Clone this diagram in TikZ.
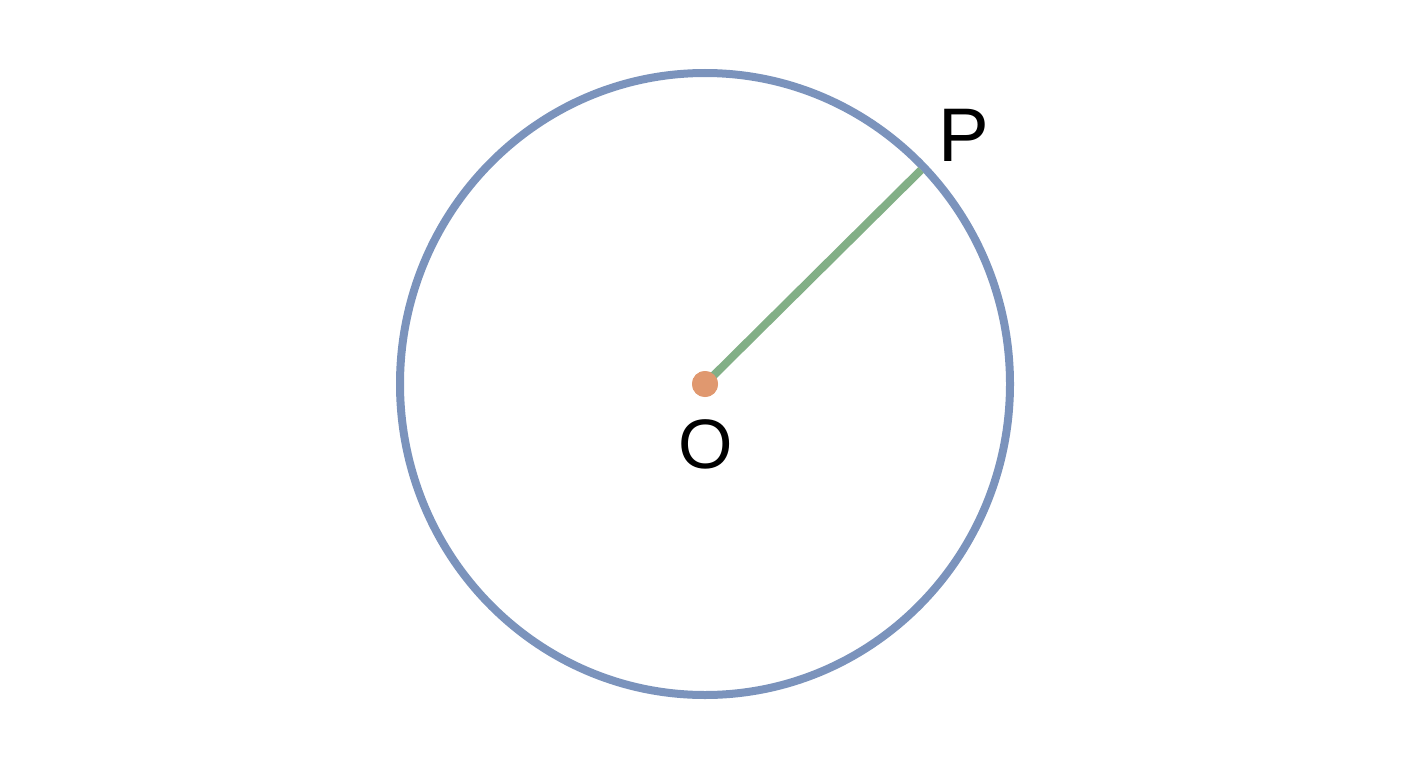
\documentclass[tikz,border=0pt]{standalone}
\usepackage{fontspec}
\setmainfont{Liberation Sans}
\usetikzlibrary{positioning}
\definecolor{rimblue}{HTML}{7B93BC}
\definecolor{radgreen}{HTML}{82AF86}
\definecolor{dotorange}{HTML}{E0986F}
\tikzset{
	rim/.style={
		draw=rimblue,
		line width=8pt
	},
	radius line/.style={
		draw=radgreen,
		line width=8pt
	},
	dot/.style={
		circle,
		fill=dotorange,
		inner sep=0pt,
		minimum size=26pt
	},
	point name/.style={
		inner sep=0pt,
		text=black
	}
}

\begin{document}
\begin{tikzpicture}[x=1pt, y=-1pt]
	\useasboundingbox (0,0) rectangle (1408,768);
	\node[dot] (o) at (705,384) {};
	\coordinate (p) at (921,170);
	\node[point name, font=\fontsize{70}{70}\selectfont] (oname) at (706,444) {O};
	\node[point name, font=\fontsize{76}{76}\selectfont] (pname) at (964,135) {P};

	\draw[rim] (o.center) ellipse [x radius=305, y radius=311];
	\draw[radius line] (o.center) -- (p);
	\node[dot] at (o) {};
\end{tikzpicture}
\end{document}
